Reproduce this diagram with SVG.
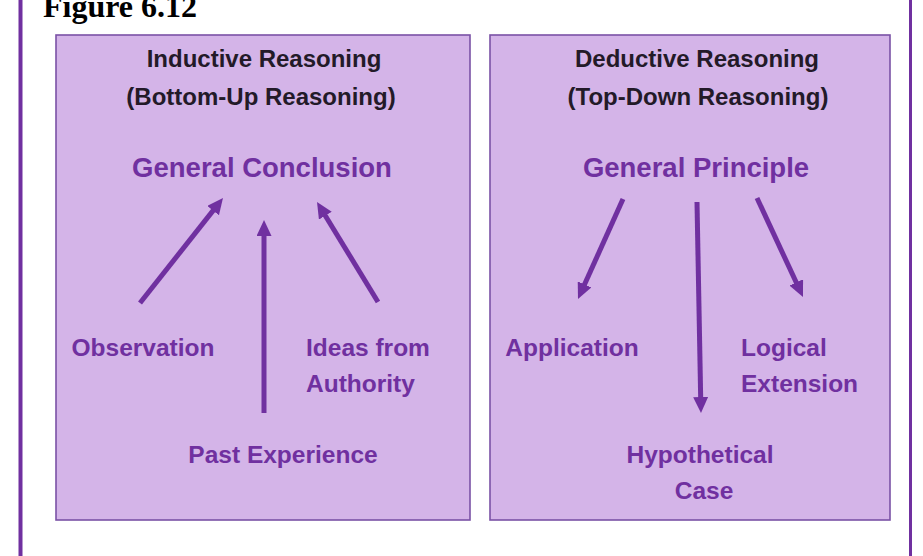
<svg xmlns="http://www.w3.org/2000/svg" width="923" height="556" viewBox="0 0 923 556">
  <style>
    .panel { fill: #d4b4e8; stroke: #7a52a6; stroke-width: 1.6; }
    .frame { stroke: #7030a0; fill: none; }
    .head { font-family: "Liberation Sans", Arial, sans-serif; font-weight: bold; font-size: 24px; fill: #231a28; text-anchor: middle; }
    .main { font-family: "Liberation Sans", Arial, sans-serif; font-weight: bold; font-size: 27.5px; fill: #7030a0; text-anchor: middle; }
    .sub { font-family: "Liberation Sans", Arial, sans-serif; font-weight: bold; font-size: 24.5px; fill: #7030a0; }
    .mid { text-anchor: middle; }
    .title { font-family: "Liberation Serif", "Times New Roman", serif; font-weight: bold; font-size: 32px; fill: #000; }
    .arrow { stroke: #7030a0; stroke-width: 5; fill: none; marker-end: url(#ah); }
  </style>
  <defs>
    <marker id="ah" markerUnits="userSpaceOnUse" markerWidth="16" markerHeight="15" refX="7" refY="7.5" orient="auto" viewBox="0 0 16 15">
      <path d="M0,0 L16,7.5 L0,15 z" fill="#7030a0"/>
    </marker>
  </defs>
  <rect width="923" height="556" fill="#ffffff"/>
  <g id="frame">
    <line class="frame" x1="20.5" y1="0" x2="20.5" y2="556" stroke-width="4"/>
    <line class="frame" x1="910.5" y1="0" x2="910.5" y2="556" stroke-width="3"/>
    <text class="title" x="43" y="17">Figure 6.12</text>
  </g>
  <g id="inductive">
    <rect class="panel" x="56" y="35" width="414" height="485"/>
    <text class="head" x="264" y="67">Inductive Reasoning</text>
    <text class="head" x="261" y="105">(Bottom-Up Reasoning)</text>
  </g>
  <g id="deductive">
    <rect class="panel" x="490" y="35" width="400" height="485"/>
    <text class="head" x="697" y="67">Deductive Reasoning</text>
    <text class="head" x="698" y="105">(Top-Down Reasoning)</text>
  </g>
  <g id="general-conclusion">
    <text class="main" x="262" y="177">General Conclusion</text>
  </g>
  <g id="observation">
    <text class="sub mid" x="143" y="356">Observation</text>
  </g>
  <g id="ideas-from-authority">
    <text class="sub" x="306" y="356">Ideas from</text>
    <text class="sub" x="306" y="392">Authority</text>
  </g>
  <g id="past-experience">
    <text class="sub mid" x="283" y="463">Past Experience</text>
  </g>
  <g id="general-principle">
    <text class="main" x="696" y="177">General Principle</text>
  </g>
  <g id="application">
    <text class="sub mid" x="572" y="356">Application</text>
  </g>
  <g id="logical-extension">
    <text class="sub" x="741" y="356">Logical</text>
    <text class="sub" x="741" y="392">Extension</text>
  </g>
  <g id="hypothetical-case">
    <text class="sub mid" x="700" y="463">Hypothetical</text>
    <text class="sub mid" x="704" y="499">Case</text>
  </g>
  <g id="connectors">
    <line class="arrow" x1="140" y1="303" x2="217.4" y2="205.1"/>
    <line class="arrow" x1="264" y1="413" x2="264" y2="229"/>
    <line class="arrow" x1="378" y1="302" x2="321.7" y2="209.7"/>
    <line class="arrow" x1="623" y1="199" x2="581.7" y2="290.8"/>
    <line class="arrow" x1="697" y1="202" x2="700.8" y2="404"/>
    <line class="arrow" x1="757" y1="198" x2="799.2" y2="288.8"/>
  </g>
</svg>
